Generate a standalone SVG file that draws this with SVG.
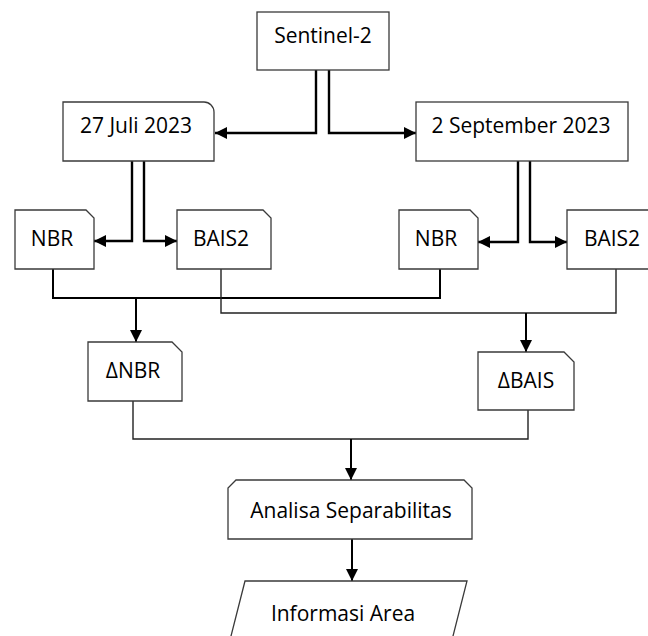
<svg xmlns="http://www.w3.org/2000/svg" width="648" height="636" viewBox="0 0 648 636">
<defs>
<style>
.node{fill:#ffffff;stroke:#3a3a3a;stroke-width:1.3}
.lbl{font-family:"Open Sans","Liberation Sans",sans-serif;font-size:21px;fill:#000;text-anchor:middle}
.c{fill:none;stroke:#000;stroke-width:2.4}
.c2{fill:none;stroke:#000;stroke-width:2}
.c3{fill:none;stroke:#222;stroke-width:1.4}
</style>
<marker id="ah" viewBox="0 0 12 12" refX="12" refY="6" markerWidth="12" markerHeight="12" markerUnits="userSpaceOnUse" orient="auto">
<path d="M0,0 L12,6 L0,12 Z" fill="#000"/>
</marker>
</defs>
<rect width="648" height="636" fill="#ffffff"/>
<g id="connectors">
<path class="c" d="M316,70 V133 H215" marker-end="url(#ah)"/>
<path class="c" d="M329,70 V133 H416" marker-end="url(#ah)"/>
<path class="c" d="M132,161 V241 H94" marker-end="url(#ah)"/>
<path class="c" d="M144,161 V241 H177" marker-end="url(#ah)"/>
<path class="c" d="M518,161 V242 H478" marker-end="url(#ah)"/>
<path class="c" d="M530,161 V242 H567" marker-end="url(#ah)"/>
<path class="c2" d="M53,269 V298 H440 V269"/>
<path class="c2" d="M136,299 V342" marker-end="url(#ah)"/>
<path class="c3" d="M221,269 V313 H616 V269"/>
<path class="c2" d="M526,313 V352" marker-end="url(#ah)"/>
<path class="c3" d="M133,401 V439 H528 V410"/>
<path class="c2" d="M351,439 V480" marker-end="url(#ah)"/>
<path class="c2" d="M352,539 V581" marker-end="url(#ah)"/>
</g>
<g id="sentinel2">
<rect class="node" x="257" y="12" width="132" height="58"/>
<text class="lbl" x="323" y="43">Sentinel-2</text>
</g>
<g id="juli">
<path class="node" d="M63,102 H204 A10,10 0 0 1 214,112 V161 H63 Z"/>
<text class="lbl" x="136" y="133">27 Juli 2023</text>
</g>
<g id="september">
<rect class="node" x="416" y="102" width="212" height="59"/>
<text class="lbl" x="521" y="133">2 September 2023</text>
</g>
<g id="nbr1">
<path class="node" d="M15,210 H86 L94,218 V269 H15 Z"/>
<text class="lbl" x="52" y="246">NBR</text>
</g>
<g id="bais1">
<path class="node" d="M177,210 H263 L271,218 V269 H177 Z"/>
<text class="lbl" x="221" y="246">BAIS2</text>
</g>
<g id="nbr2">
<path class="node" d="M399,210 H470 L478,218 V269 H399 Z"/>
<text class="lbl" x="436" y="246">NBR</text>
</g>
<g id="bais2">
<path class="node" d="M567,210 H653 L661,218 V269 H567 Z"/>
<text class="lbl" x="612" y="246">BAIS2</text>
</g>
<g id="dnbr">
<path class="node" d="M88,342 H172 L182,352 V401 H88 Z"/>
<text class="lbl" x="133" y="378">ΔNBR</text>
</g>
<g id="dbais">
<path class="node" d="M478,352 H564 L574,362 V410 H478 Z"/>
<text class="lbl" x="526" y="388">ΔBAIS</text>
</g>
<g id="analisa">
<path class="node" d="M236,480 H464 L472,488 V539 H228 V488 Z"/>
<text class="lbl" x="351" y="518">Analisa Separabilitas</text>
</g>
<g id="informasi">
<polygon class="node" points="245,581 467,581 452,640 230,640"/>
<text class="lbl" x="343" y="621">Informasi Area</text>
</g>
</svg>
